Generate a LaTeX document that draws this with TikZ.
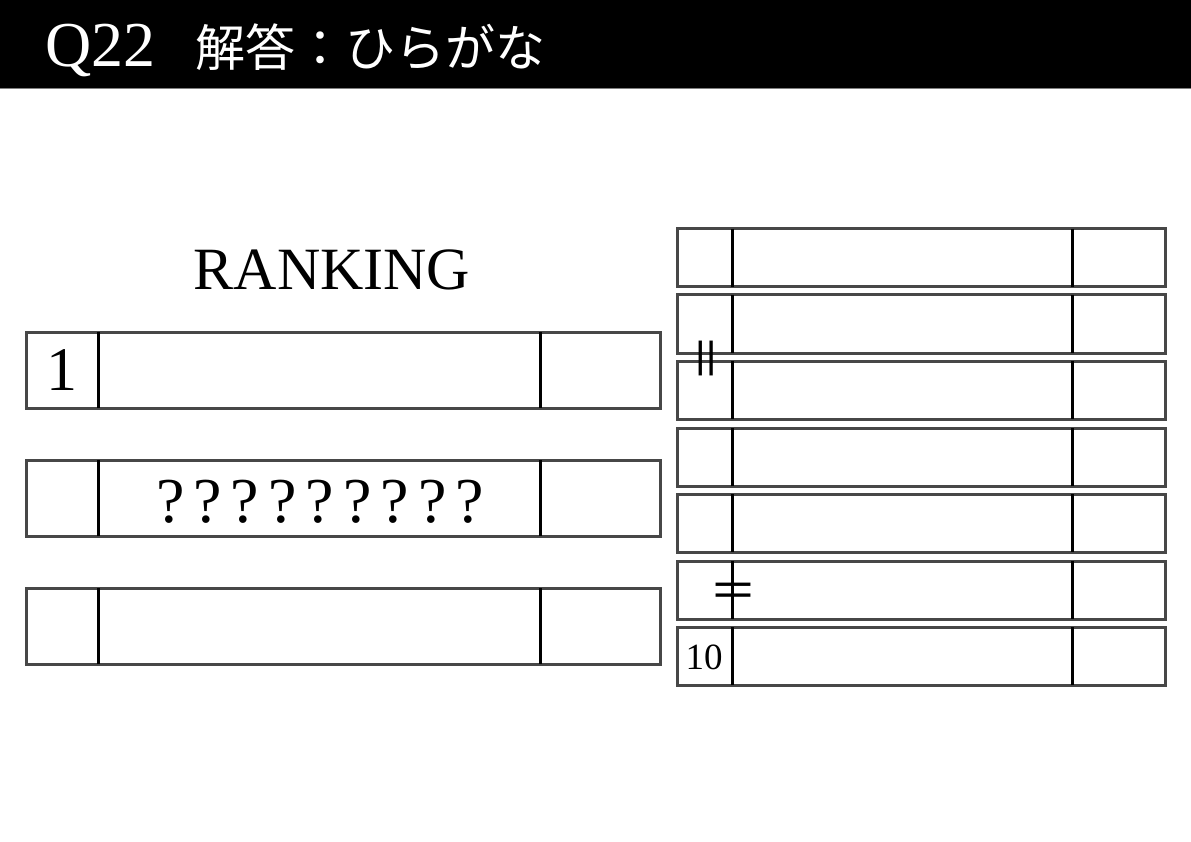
\documentclass[tikz,border=0pt]{standalone}
\usepackage{fontspec}
\setmainfont{Liberation Serif}
\newfontfamily\jpfont{Noto Sans CJK JP}
\usetikzlibrary{positioning}
\definecolor{boxgray}{HTML}{474747}

\tikzset{
	leftrow/.style = {draw = boxgray, line width = 3pt, minimum width = 634pt, minimum height = 76pt, inner sep = 0pt, outer sep = 0pt, anchor = north west},
	rightrow/.style = {draw = boxgray, line width = 3pt, minimum width = 488pt, minimum height = 58pt, inner sep = 0pt, outer sep = 0pt, anchor = north west},
	divline/.style = {line width = 3pt, black}
}
\newcommand{\qmk}{?\kern 9pt}

\begin{document}
\begin{tikzpicture}[x = 1pt, y = -1pt]
		\useasboundingbox (0,0) rectangle (1191,842);
		\fill[black] (0,0) rectangle (1191,88);
		\draw[gray, line width = 1.5pt] (0,88.5) -- (1191,88.5);
		\node (title)[anchor = base west, text = white, inner sep = 0pt] at (45,67){\fontsize{64}{68}\selectfont Q22\hspace{40pt}{\jpfont\fontsize{50}{56}\selectfont 解答：ひらがな}};
		%
		\node (rank)[anchor = base, inner sep = 0pt] at (332,290){\fontsize{60}{64}\selectfont RANKING};
		%
		\node (L1)[leftrow] at (26,332){};
		\node (L2)[leftrow] at (26,460){};
		\node (L3)[leftrow] at (26,588){};
		\draw[divline] ([xshift = 72pt]L1.north west) -- ([xshift = 72pt]L1.south west);
		\draw[divline] ([xshift = 514pt]L1.north west) -- ([xshift = 514pt]L1.south west);
		\draw[divline] ([xshift = 72pt]L2.north west) -- ([xshift = 72pt]L2.south west);
		\draw[divline] ([xshift = 514pt]L2.north west) -- ([xshift = 514pt]L2.south west);
		\draw[divline] ([xshift = 72pt]L3.north west) -- ([xshift = 72pt]L3.south west);
		\draw[divline] ([xshift = 514pt]L3.north west) -- ([xshift = 514pt]L3.south west);
		\node (one)[anchor = base, inner sep = 0pt] at (62,390){\fontsize{62}{66}\selectfont 1};
		\node (quiz)[anchor = base, inner sep = 0pt] at (320,522){\fontsize{64}{68}\selectfont \qmk\qmk\qmk\qmk\qmk\qmk\qmk\qmk?};
		%
		\node (R1)[rightrow] at (677,229){};
		\node (R2)[rightrow] at (677,295){};
		\node (R3)[rightrow] at (677,361){};
		\node (R4)[rightrow] at (677,428){};
		\node (R5)[rightrow] at (677,494){};
		\node (R6)[rightrow] at (677,561){};
		\node (R7)[rightrow] at (677,627){};
		\draw[divline] ([xshift = 55pt]R1.north west) -- ([xshift = 55pt]R1.south west);
		\draw[divline] ([xshift = 395pt]R1.north west) -- ([xshift = 395pt]R1.south west);
		\draw[divline] ([xshift = 55pt]R2.north west) -- ([xshift = 55pt]R2.south west);
		\draw[divline] ([xshift = 395pt]R2.north west) -- ([xshift = 395pt]R2.south west);
		\draw[divline] ([xshift = 55pt]R3.north west) -- ([xshift = 55pt]R3.south west);
		\draw[divline] ([xshift = 395pt]R3.north west) -- ([xshift = 395pt]R3.south west);
		\draw[divline] ([xshift = 55pt]R4.north west) -- ([xshift = 55pt]R4.south west);
		\draw[divline] ([xshift = 395pt]R4.north west) -- ([xshift = 395pt]R4.south west);
		\draw[divline] ([xshift = 55pt]R5.north west) -- ([xshift = 55pt]R5.south west);
		\draw[divline] ([xshift = 395pt]R5.north west) -- ([xshift = 395pt]R5.south west);
		\draw[divline] ([xshift = 55pt]R6.north west) -- ([xshift = 55pt]R6.south west);
		\draw[divline] ([xshift = 395pt]R6.north west) -- ([xshift = 395pt]R6.south west);
		\draw[divline] ([xshift = 55pt]R7.north west) -- ([xshift = 55pt]R7.south west);
		\draw[divline] ([xshift = 395pt]R7.north west) -- ([xshift = 395pt]R7.south west);
		\node (ten)[anchor = base, inner sep = 0pt] at (704,669){\fontsize{37}{40}\selectfont 10};
		\node (eqa)[rotate = 90, inner sep = 0pt] at (712,358){\jpfont\fontsize{48}{50}\selectfont ＝};
		\node (eqb)[inner sep = 0pt] at (733,596){\jpfont\fontsize{48}{50}\selectfont ＝};
	\end{tikzpicture}
\end{document}
